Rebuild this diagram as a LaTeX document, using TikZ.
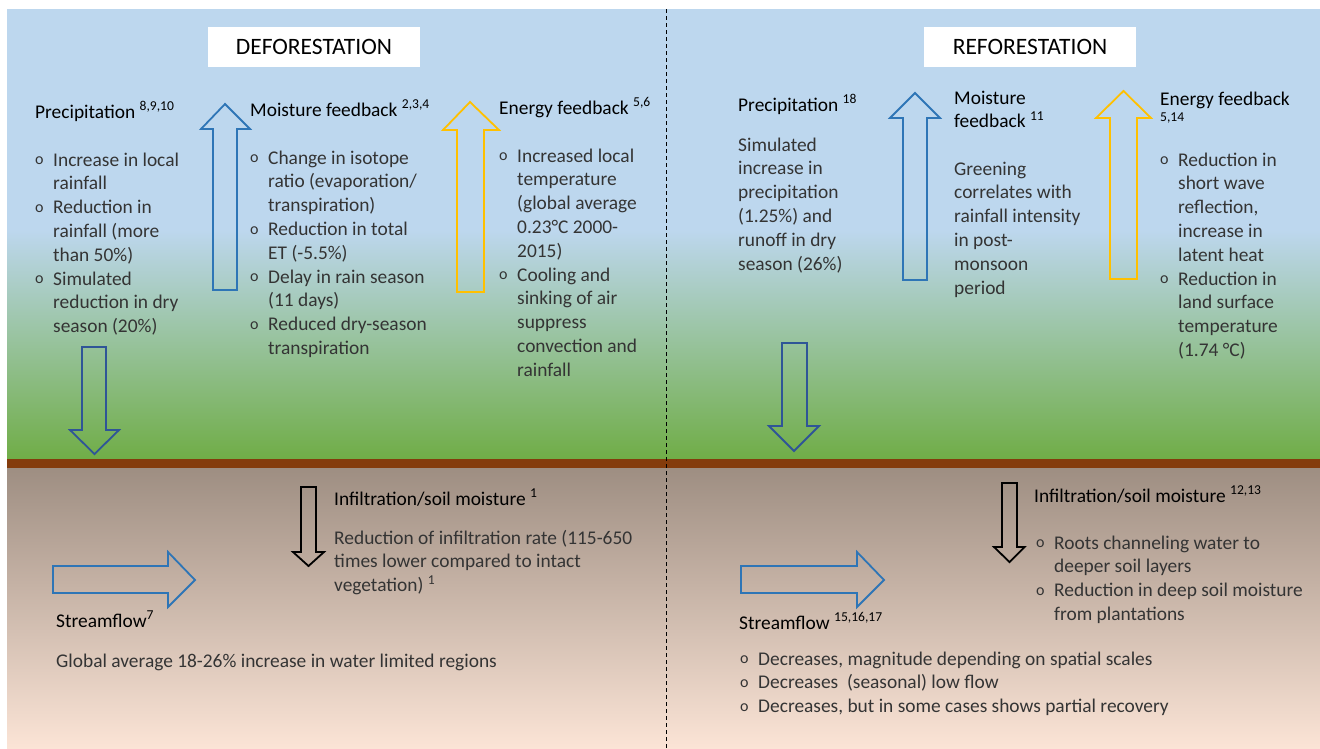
\documentclass[tikz,border=0pt]{standalone}
\usepackage{fontspec}
\setmainfont{Carlito}
\usetikzlibrary{positioning,backgrounds}
\definecolor{skyblue}{RGB}{189,215,238}
\definecolor{grass}{RGB}{112,173,71}
\definecolor{soil}{RGB}{132,60,12}
\definecolor{soiltop}{RGB}{158,142,130}
\definecolor{soilbot}{RGB}{251,228,214}
\definecolor{moistblue}{RGB}{46,117,182}
\definecolor{rainblue}{RGB}{47,85,151}
\definecolor{sunyellow}{RGB}{255,192,0}
\definecolor{bodygray}{RGB}{52,52,52}
\newcommand{\bul}{\makebox[18pt][l]{\raisebox{0.15ex}{\fontsize{16}{16}\selectfont o}}}

\begin{document}
\begin{tikzpicture}[x=1pt,y=-1pt,
hdr/.style={anchor=base west, inner sep=0, font=\fontsize{19.4}{23.8}\selectfont, text=black},
body/.style={anchor=base west, inner sep=0, font=\fontsize{19.4}{23.8}\selectfont, text=bodygray},
titlebox/.style={fill=white, minimum width=212pt, minimum height=40pt, inner sep=0, font=\fontsize{23.5}{28}\selectfont},
blockarrow/.style={line width=1.8pt, line join=miter}]

\useasboundingbox (0,0) rectangle (1320,748);
\fill[white] (0,0) rectangle (1320,748);

% sky, ground and soil
\fill[skyblue] (7,9) rectangle (1320,230);
\shade[top color=skyblue, bottom color=grass] (7,230) rectangle (1320,459);
\fill[soil] (7,459) rectangle (1320,468);
\shade[top color=soiltop, bottom color=soilbot] (7,468) rectangle (1320,748);
\draw[dash pattern=on 4pt off 3pt, line width=0.8pt] (666,9) -- (666,748);

\node[titlebox] (defo) at (314,47) {DEFORESTATION};
\node[titlebox] (refo) at (1030,47) {REFORESTATION};

%% deforestation, above ground
\node[hdr] (precD) at (35,118) {Precipitation \textsuperscript{8,9,10}};
\node[body] (precDtxt) at (35,166) {\begin{tabular}[t]{@{}l@{}l@{}}
\bul & Increase in local\\
 & rainfall\\
\bul & Reduction in\\
 & rainfall (more\\
 & than 50\%)\\
\bul & Simulated\\
 & reduction in dry\\
 & season (20\%)
\end{tabular}};

\draw[blockarrow, moistblue] (213,290) -- (213,129) -- (201,129) -- (225,104) -- (250,129) -- (237,129) -- (237,290) -- cycle;
\node[hdr] (moistD) at (250,116) {Moisture feedback \textsuperscript{2,3,4}};
\node[body] (moistDtxt) at (250,164) {\begin{tabular}[t]{@{}l@{}l@{}}
\bul & Change in isotope\\
 & ratio (evaporation/\\
 & transpiration)\\
\bul & Reduction in total\\
 & ET (-5.5\%)\\
\bul & Delay in rain season\\
 & (11 days)\\
\bul & Reduced dry-season\\
 & transpiration
\end{tabular}};

\draw[blockarrow, sunyellow] (457,292) -- (457,130) -- (443,130) -- (470,102) -- (499,130) -- (484,130) -- (484,292) -- cycle;
\node[hdr] (energyD) at (499,114) {Energy feedback \textsuperscript{5,6}};
\node[body] (energyDtxt) at (499,162) {\begin{tabular}[t]{@{}l@{}l@{}}
\bul & Increased local\\
 & temperature\\
 & (global average\\
 & 0.23°C 2000-\\
 & 2015)\\
\bul & Cooling and\\
 & sinking of air\\
 & suppress\\
 & convection and\\
 & rainfall
\end{tabular}};

\draw[blockarrow, rainblue] (82,347) -- (106,347) -- (106,430) -- (119,430) -- (94.5,454) -- (70,430) -- (82,430) -- cycle;

%% deforestation, below ground
\draw[blockarrow, black] (301,487) -- (316,487) -- (316,552) -- (324,552) -- (308.5,566) -- (293,552) -- (301,552) -- cycle;
\node[hdr] (infD) at (334,505) {Infiltration/soil moisture \textsuperscript{1}};
\node[body] (infDtxt) at (334,544) {\begin{tabular}[t]{@{}l@{}}
Reduction of infiltration rate (115-650\\
times lower compared to intact\\
vegetation) \textsuperscript{1}
\end{tabular}};

\draw[blockarrow, moistblue] (53,566) -- (168,566) -- (168,552) -- (195,580) -- (168,607) -- (168,593) -- (53,593) -- cycle;
\node[hdr] (flowD) at (56,627) {Streamflow\textsuperscript{7}};
\node[body] (flowDtxt) at (56,667) {Global average 18-26\% increase in water limited regions};

%% reforestation, above ground
\node[hdr] (precR) at (738,111) {Precipitation \textsuperscript{18}};
\node[body] (precRtxt) at (738,151) {\begin{tabular}[t]{@{}l@{}}
Simulated\\
increase in\\
precipitation\\
(1.25\%) and\\
runoff in dry\\
season (26\%)
\end{tabular}};

\draw[blockarrow, moistblue] (903,280) -- (903,118) -- (890,118) -- (915,93) -- (940,118) -- (927,118) -- (927,280) -- cycle;
\node[hdr] (moistR) at (954,104) {\begin{tabular}[t]{@{}l@{}}
Moisture\\
feedback \textsuperscript{11}
\end{tabular}};
\node[body] (moistRtxt) at (954,175) {\begin{tabular}[t]{@{}l@{}}
Greening\\
correlates with\\
rainfall intensity\\
in post-\\
monsoon\\
period
\end{tabular}};

\draw[blockarrow, sunyellow] (1110,279) -- (1110,118) -- (1096,118) -- (1123.5,91) -- (1151,118) -- (1137,118) -- (1137,279) -- cycle;
\node[hdr] (energyR) at (1160,105) {\begin{tabular}[t]{@{}l@{}}
Energy feedback\\
\textsuperscript{5,14}
\end{tabular}};
\node[body] (energyRtxt) at (1160,166) {\begin{tabular}[t]{@{}l@{}l@{}}
\bul & Reduction in\\
 & short wave\\
 & reflection,\\
 & increase in\\
 & latent heat\\
\bul & Reduction in\\
 & land surface\\
 & temperature\\
 & (1.74 °C)
\end{tabular}};

\draw[blockarrow, rainblue] (782,343) -- (807,343) -- (807,426) -- (819,426) -- (794,451) -- (769,426) -- (782,426) -- cycle;

%% reforestation, below ground
\draw[blockarrow, black] (1002,483) -- (1017,483) -- (1017,547) -- (1024.5,547) -- (1009.5,562) -- (994,547) -- (1002,547) -- cycle;
\node[hdr] (infR) at (1034,502) {Infiltration/soil moisture \textsuperscript{12,13}};
\node[body] (infRtxt) at (1036,549) {\begin{tabular}[t]{@{}l@{}l@{}}
\bul & Roots channeling water to\\
 & deeper soil layers\\
\bul & Reduction in deep soil moisture\\
 & from plantations
\end{tabular}};

\draw[blockarrow, moistblue] (741,566) -- (857,566) -- (857,552) -- (884,580) -- (857,607) -- (857,593) -- (741,593) -- cycle;
\node[hdr] (flowR) at (739,629) {Streamflow \textsuperscript{15,16,17}};
\node[body] (flowRtxt) at (740,665) {\begin{tabular}[t]{@{}l@{}l@{}}
\bul & Decreases, magnitude depending on spatial scales\\
\bul & Decreases~ (seasonal) low flow\\
\bul & Decreases, but in some cases shows partial recovery
\end{tabular}};
%
\end{tikzpicture}
\end{document}
